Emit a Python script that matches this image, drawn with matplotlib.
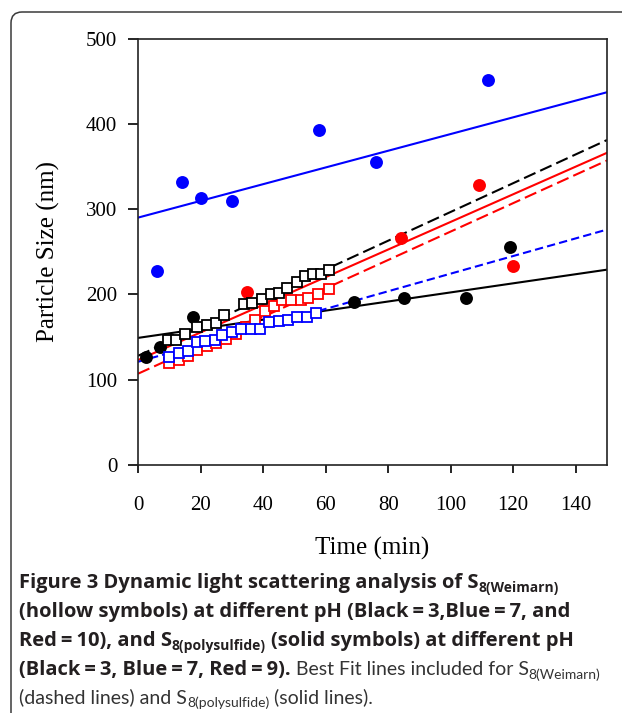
import matplotlib
matplotlib.use('Agg')
import numpy as np
import matplotlib.pyplot as plt
from matplotlib.patches import FancyBboxPatch

# S8(Weimarn) - hollow squares (time in min, size in nm)
wb_t = [9.5, 12, 15, 19, 22, 25, 27.5, 34, 36.5, 39.5, 42.5, 45, 47.5, 51, 53.5, 56, 58.5, 61]
wb_y = [146, 147, 153, 162, 164, 166, 176, 189, 190, 195, 201, 202, 208, 214, 221, 224, 224, 229]
wr_t = [10, 13, 16, 19, 22, 25, 28, 31.5, 34.5, 37.5, 40.5, 43.5, 46, 49, 52, 54.5, 57.5, 61]
wr_y = [120, 123, 128, 135, 139, 143, 148, 154, 162, 170, 180, 186, 193, 194, 194, 196, 201, 206]
wu_t = [10, 13, 16, 19, 21.5, 24.5, 27, 30, 33, 36, 39, 42, 45, 48, 51, 54, 57]
wu_y = [127, 131, 134, 144, 145, 147, 152, 156, 159, 160, 160, 168, 169, 170, 173, 173, 178]

# S8(polysulfide) - solid circles
pb_t = [2.5, 7, 17.5, 69, 85, 105, 119]
pb_y = [127, 138, 174, 191, 196, 196, 255]
pu_t = [6, 14, 20, 30, 58, 76, 112]
pu_y = [227, 332, 313, 310, 393, 355, 451]
pr_t = [35, 84, 109, 120]
pr_y = [203, 266, 328, 233]

# best fit lines, value read at t=0 and t=150
fit_t = [0, 150]
fit_solid_black = [149, 229]
fit_solid_blue = [290, 437]
fit_solid_red = [123, 366]
fit_dash_black = [128, 381]
fit_dash_blue = [121, 276]
fit_dash_red = [107, 357]

W, H = 622, 713
fig = plt.figure(figsize=(W / 100, H / 100), dpi=100)

# background layer in pixel units (frame + caption)
bg = fig.add_axes([0, 0, 1, 1], zorder=0)
bg.set_xlim(0, W)
bg.set_ylim(H, 0)
bg.axis('off')
bg.add_patch(FancyBboxPatch((11, 12), 700, 800, boxstyle="round,pad=0,rounding_size=11",
                            fc='white', ec='#3a3a3a', lw=1.1))

ax = fig.add_axes([138 / W, 1 - 465 / H, (607 - 138) / W, (465 - 38.5) / H], zorder=1)
ax.patch.set_alpha(0)

lw = 1.5
ax.plot(fit_t, fit_solid_black, color='black', lw=lw, zorder=2)
ax.plot(fit_t, fit_solid_blue, color='#0000ff', lw=lw, zorder=2)
ax.plot(fit_t, fit_solid_red, color='#ff0000', lw=lw, zorder=2)
ax.plot(fit_t, fit_dash_black, color='black', lw=lw, dashes=(6, 2.5), zorder=2)
ax.plot(fit_t, fit_dash_blue, color='#0000ff', lw=lw, dashes=(4, 2), zorder=2)
ax.plot(fit_t, fit_dash_red, color='#ff0000', lw=lw, dashes=(6, 2.5), zorder=2)

ms_c = 9.3
ax.plot(pb_t, pb_y, 'o', color='black', ms=ms_c, mew=0, zorder=3)
ax.plot(pu_t, pu_y, 'o', color='#0000ff', ms=ms_c, mew=0, zorder=3)
ax.plot(pr_t, pr_y, 'o', color='#ff0000', ms=ms_c, mew=0, zorder=3)

ms_s = 7.6
ax.plot(wr_t, wr_y, 's', mfc='white', mec='#ff0000', ms=ms_s, mew=1.3, zorder=4)
ax.plot(wb_t, wb_y, 's', mfc='white', mec='black', ms=ms_s, mew=1.3, zorder=4)
ax.plot(wu_t, wu_y, 's', mfc='white', mec='#0000ff', ms=ms_s, mew=1.3, zorder=4)

ax.set_xlim(0, 150)
ax.set_ylim(0, 500)
ax.set_xticks(np.arange(0, 141, 20))
ax.set_yticks(np.arange(0, 501, 100))
for s in ax.spines.values():
    s.set_linewidth(1.2)
    s.set_color('#222222')
ax.tick_params(axis='x', direction='out', length=6, width=1.2, pad=16, labelsize=15)
ax.tick_params(axis='y', direction='out', length=7, width=1.2, pad=8, labelsize=15)
for lab in ax.get_xticklabels() + ax.get_yticklabels():
    lab.set_family('Liberation Serif')
ax.set_xlabel('Time (min)', family='Liberation Serif', fontsize=18, labelpad=16)
ax.set_ylabel('Particle Size (nm)', family='Liberation Serif', fontsize=18, labelpad=19)

# caption, drawn run by run so the subscripts sit right
renderer = fig.canvas.get_renderer()
bold_font = ['Open Sans', 'DejaVu Sans']
light_font = ['Lato', 'DejaVu Sans']
th = '\u2009'


def draw_runs(x, y, runs):
    for txt, bold, sub, gap in runs:
        x += gap
        if bold:
            size = 10 if sub else 14.5
        else:
            size = 10 if sub else 14
        t = bg.text(x, y + (4 if sub else 0), txt,
                    family=bold_font if bold else light_font,
                    fontsize=size, fontweight='bold' if bold else 'normal',
                    color='#231f20' if bold else '#333333', ha='left', va='baseline')
        x += t.get_window_extent(renderer=renderer).width


sp = 5
draw_runs(19, 588, [("Figure 3 Dynamic light scattering analysis of S", True, False, 0),
                    ("8(Weimarn)", True, True, 0)])
draw_runs(19, 617, [(f"(hollow symbols) at different pH (Black{th}={th}3,Blue{th}={th}7, and", True, False, 0)])
draw_runs(19, 646, [(f"Red{th}={th}10), and S", True, False, 0),
                    ("8(polysulfide)", True, True, 0),
                    ("(solid symbols) at different pH", True, False, sp)])
draw_runs(19, 675, [(f"(Black{th}={th}3, Blue{th}={th}7, Red{th}={th}9).", True, False, 0),
                    ("Best Fit lines included for S", False, False, sp),
                    ("8(Weimarn)", False, True, 0)])
draw_runs(19, 703, [("(dashed lines) and S", False, False, 0),
                    ("8(polysulfide)", False, True, 0),
                    ("(solid lines).", False, False, sp)])

fig.savefig('out.png', dpi=100)
